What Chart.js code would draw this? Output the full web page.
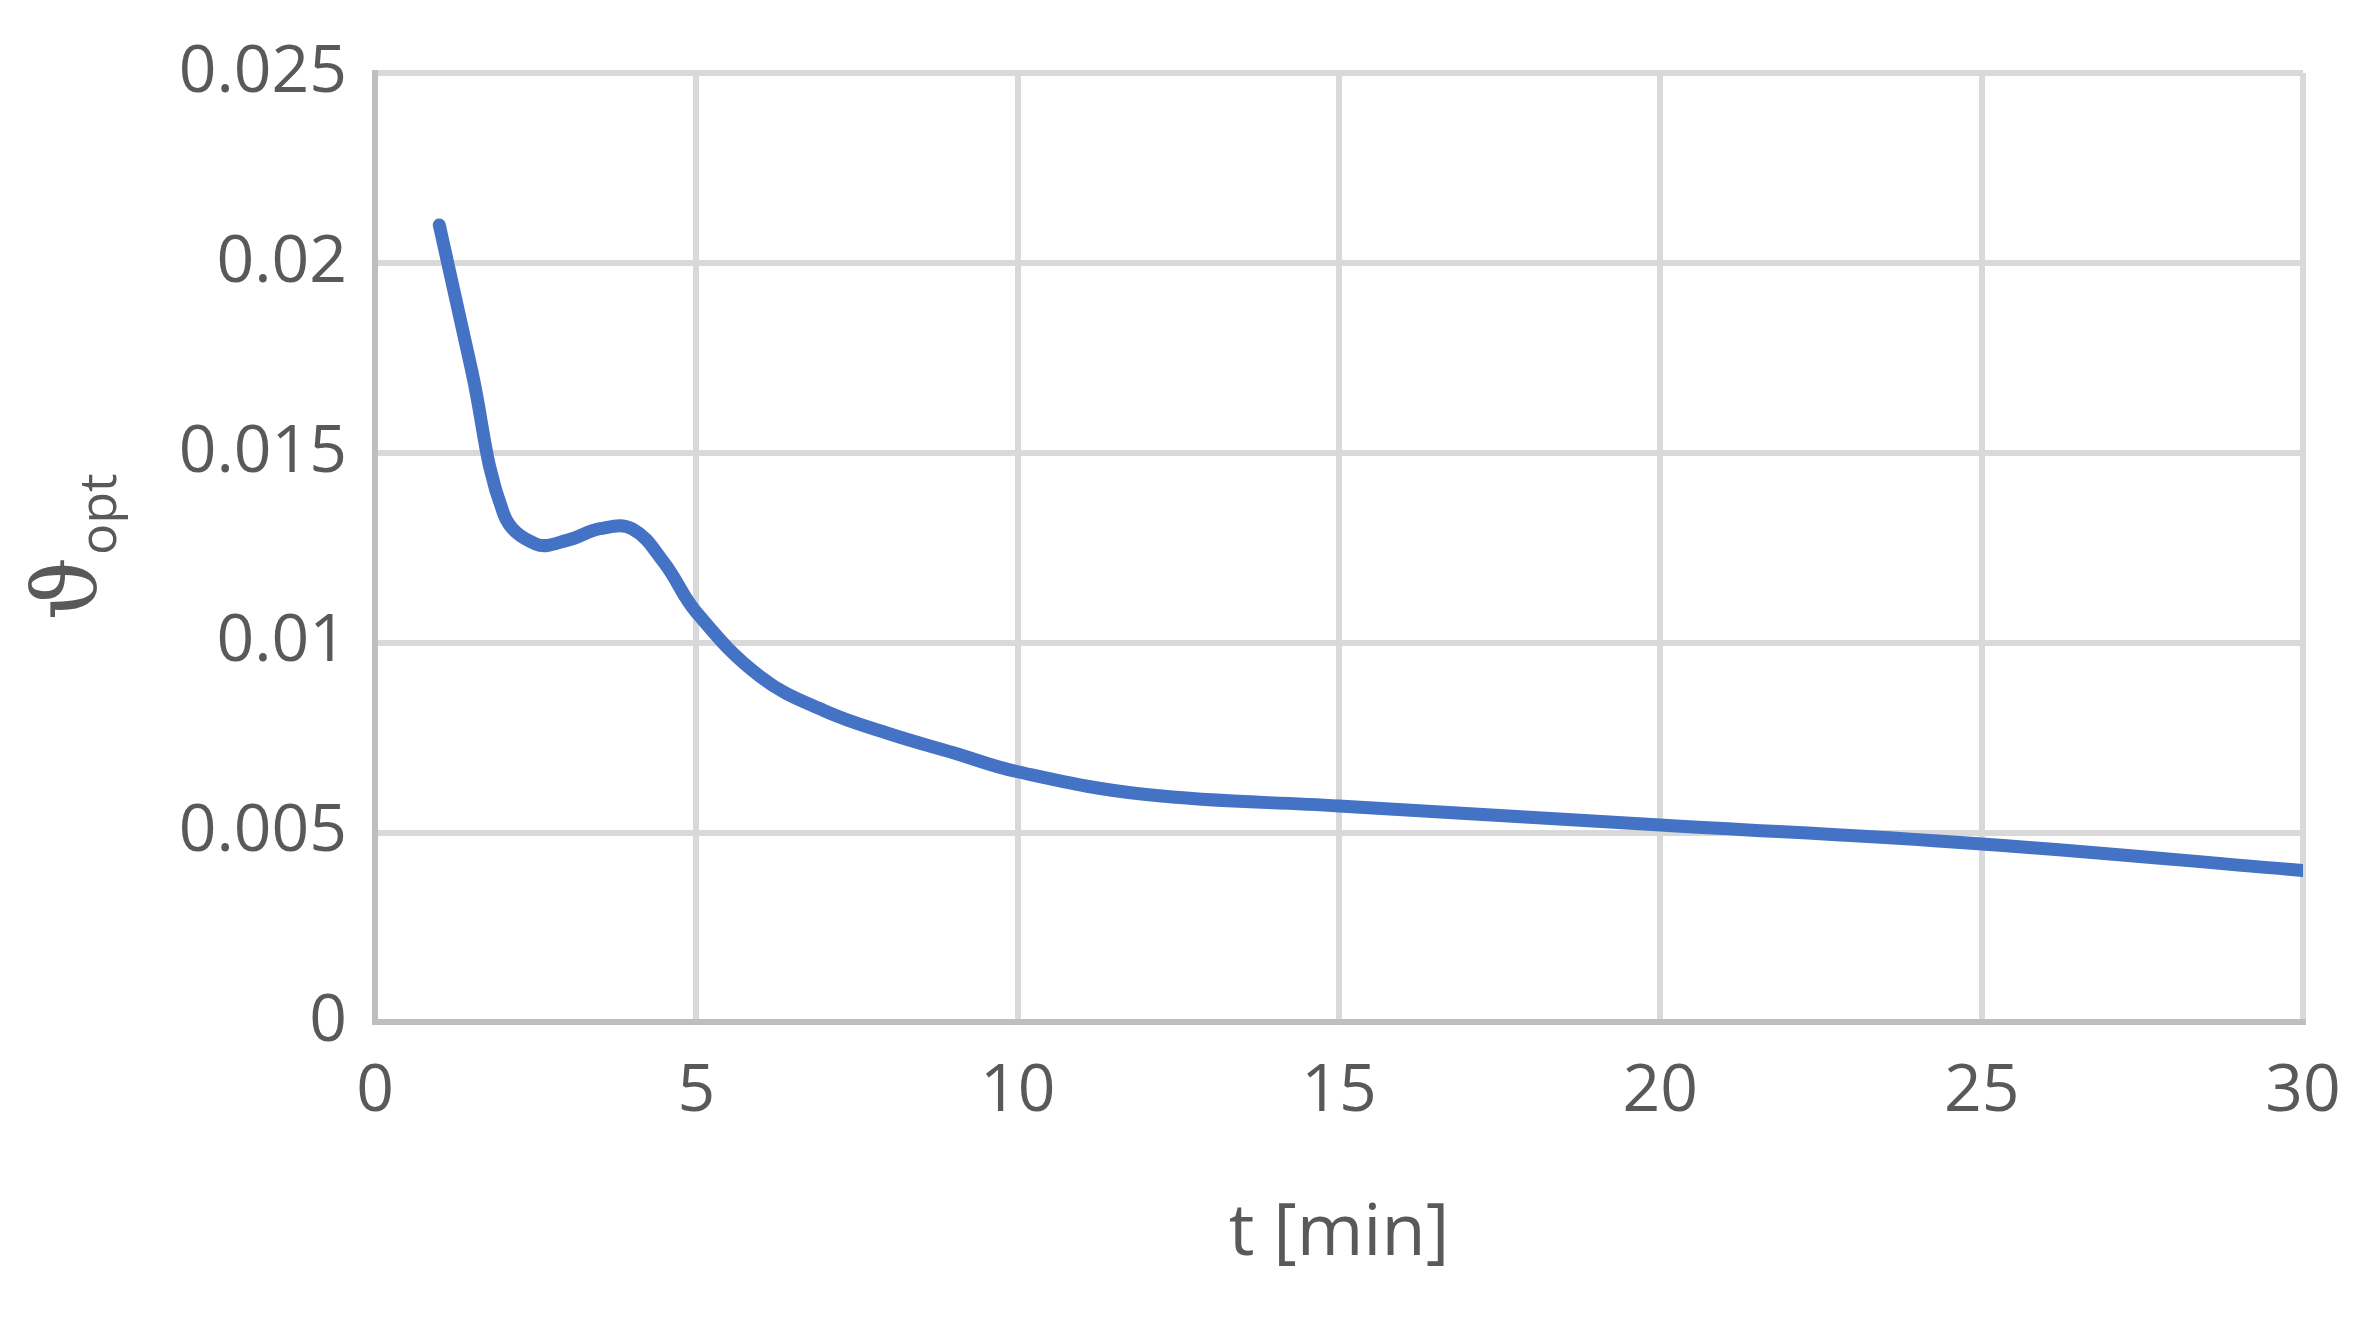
<!DOCTYPE html>
<html>
<head>
<meta charset="utf-8">
<script src="https://cdn.jsdelivr.net/npm/chart.js@4"></script>
<style>
  html, body { margin: 0; padding: 0; background: #fff; }
  #wrap { width: 2371px; height: 1320px; }
</style>
</head>
<body>
<div id="wrap"><canvas id="c"></canvas></div>
<script>
// values
const tValues = [1, 1.5, 2, 2.5, 3, 3.5, 4, 4.5, 5, 6, 7, 8, 9, 10, 12, 15, 20, 25, 30];
const thetaValues = [0.021, 0.0172, 0.0134, 0.0126, 0.0127, 0.0130, 0.0130, 0.0121, 0.0108, 0.0091, 0.0082, 0.0076, 0.0071, 0.0066, 0.0060, 0.0057, 0.0052, 0.0047, 0.0040];
const yTicks = [0, 0.005, 0.01, 0.015, 0.02, 0.025];
const xTicks = [0, 5, 10, 15, 20, 25, 30];

const points = tValues.map((t, i) => ({ x: t, y: thetaValues[i] }));
const textColor = '#595959';
const fontFamily = '"Open Sans", "Liberation Sans", sans-serif';

// y axis title with subscript
const yTitle = {
  id: 'yTitle',
  afterDraw(chart) {
    const ctx = chart.ctx;
    const area = chart.chartArea;
    ctx.save();
    ctx.translate(70, (area.top + area.bottom) / 2);
    ctx.rotate(-Math.PI / 2);
    ctx.fillStyle = textColor;
    ctx.textBaseline = 'alphabetic';
    ctx.font = '88px "DejaVu Serif", serif';
    const w = ctx.measureText('ϑ').width;
    ctx.font = '52px ' + fontFamily;
    const w2 = ctx.measureText('opt').width;
    const x0 = -(w + w2) / 2;
    ctx.font = '88px "DejaVu Serif", serif';
    ctx.fillText('ϑ', x0, 26);
    ctx.font = '52px ' + fontFamily;
    ctx.fillText('opt', x0 + w + 2, 46);
    ctx.restore();
  }
};

new Chart(document.getElementById('c'), {
  type: 'line',
  data: {
    datasets: [{
      data: points,
      borderColor: '#4472C4',
      borderWidth: 13,
      pointRadius: 0,
      tension: 0.4,
      borderCapStyle: 'round',
      fill: false
    }]
  },
  options: {
    responsive: true,
    maintainAspectRatio: false,
    animation: false,
    layout: { padding: { top: 73, right: 68, bottom: 38, left: 0 } },
    plugins: { legend: { display: false }, tooltip: { enabled: false } },
    scales: {
      x: {
        type: 'linear', min: 0, max: 30,
        afterBuildTicks: s => { s.ticks = xTicks.map(v => ({ value: v })); },
        grid: { color: '#d9d9d9', lineWidth: 6, drawTicks: false },
        border: { color: '#bfbfbf', width: 6 },
        ticks: { color: textColor, font: { size: 66, family: fontFamily }, padding: 30 },
        title: { display: true, text: 't [min]', color: textColor, font: { size: 72, family: fontFamily }, padding: { top: 30 } }
      },
      y: {
        min: 0, max: 0.025,
        afterBuildTicks: s => { s.ticks = yTicks.map(v => ({ value: v })); },
        afterFit: s => { s.width = 375; },
        grid: { color: '#d9d9d9', lineWidth: 6, drawTicks: false },
        border: { color: '#bfbfbf', width: 6 },
        ticks: { color: textColor, font: { size: 66, family: fontFamily }, padding: 28,
                 callback: v => String(v) }
      }
    }
  },
  plugins: [yTitle]
});
</script>
</body>
</html>
